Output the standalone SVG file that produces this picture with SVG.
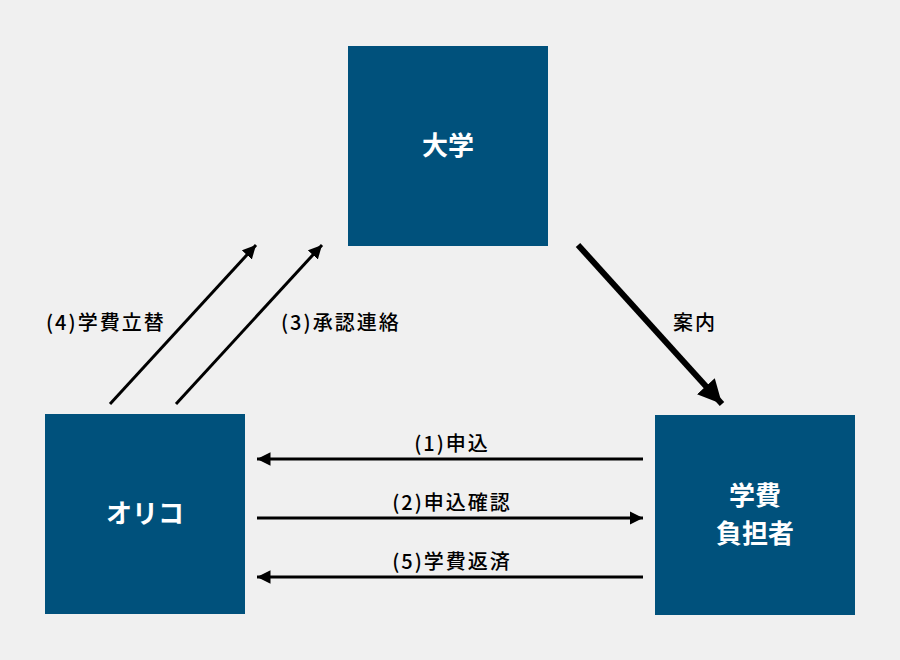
<svg xmlns="http://www.w3.org/2000/svg" width="900" height="660" viewBox="0 0 900 660">
<style>
.box{fill:#00517c}
.bl{font-family:"Noto Sans CJK JP","Noto Sans",sans-serif;font-size:26px;font-weight:bold;fill:#fff;text-anchor:middle}
.lb{font-family:"Noto Sans CJK JP","Noto Sans",sans-serif;font-size:20px;font-weight:500;letter-spacing:2px;fill:#000}
.ln{stroke:#000;stroke-width:3;fill:none}
.thick{stroke:#000;stroke-width:6;fill:none}
</style>
<defs>
<marker id="ah" viewBox="0 0 10 10" refX="10" refY="5" markerWidth="4.5" markerHeight="4.5" orient="auto" markerUnits="strokeWidth">
<path d="M0,0 L10,5 L0,10 z" fill="#000"/>
</marker>
<marker id="ahb" viewBox="0 0 10 10" refX="10" refY="5" markerWidth="4" markerHeight="4" orient="auto" markerUnits="strokeWidth">
<path d="M0,0 L10,5 L0,10 z" fill="#000"/>
</marker>
</defs>
<rect width="900" height="660" fill="#f0f0f0"/>
<g id="daigaku">
<rect class="box" x="348" y="46" width="200" height="200"/>
<text class="bl" x="448" y="155">大学</text>
</g>
<g id="orico">
<rect class="box" x="45" y="414" width="200" height="200"/>
<text class="bl" x="145" y="523">オリコ</text>
</g>
<g id="futansha">
<rect class="box" x="655" y="415" width="200" height="200"/>
<text class="bl" x="755" y="505">学費</text>
<text class="bl" x="755" y="543">負担者</text>
</g>
<g id="connectors">
<line class="ln" x1="110" y1="404" x2="256" y2="245" marker-end="url(#ah)"/>
<line class="ln" x1="176" y1="404" x2="322" y2="245" marker-end="url(#ah)"/>
<line class="thick" x1="578" y1="245" x2="722" y2="404" marker-end="url(#ahb)"/>
<line class="ln" x1="643" y1="459" x2="257" y2="459" marker-end="url(#ah)"/>
<line class="ln" x1="257" y1="518" x2="643" y2="518" marker-end="url(#ah)"/>
<line class="ln" x1="643" y1="577" x2="257" y2="577" marker-end="url(#ah)"/>
<text class="lb" x="46" y="330">(4)学費立替</text>
<text class="lb" x="281" y="330">(3)承認連絡</text>
<text class="lb" x="673" y="330">案内</text>
<text class="lb" x="452" y="451" text-anchor="middle">(1)申込</text>
<text class="lb" x="452" y="510" text-anchor="middle">(2)申込確認</text>
<text class="lb" x="452" y="569" text-anchor="middle">(5)学費返済</text>
</g>
</svg>
